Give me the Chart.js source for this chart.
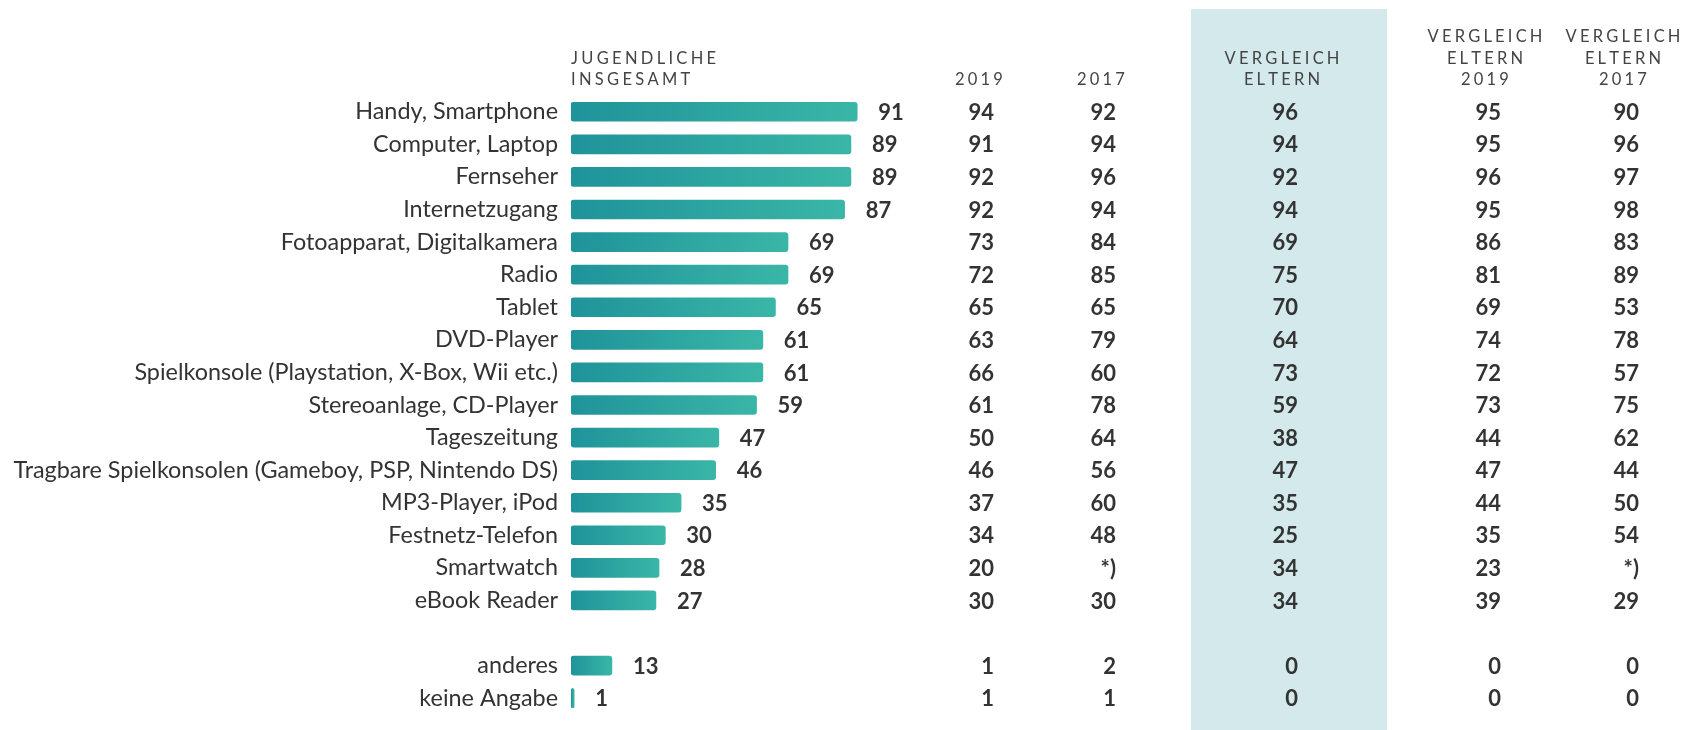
<!DOCTYPE html>
<html>
<head>
<meta charset="utf-8">
<script src="https://cdn.jsdelivr.net/npm/chart.js@4/dist/chart.umd.min.js"></script>
<style>
html,body{margin:0;padding:0;background:#fff;}
#wrap{width:1685px;height:730px;position:relative;}
</style>
</head>
<body>
<div id="wrap"><canvas id="c" width="1685" height="730"></canvas></div>
<script>
const categories = ["Handy, Smartphone","Computer, Laptop","Fernseher","Internetzugang","Fotoapparat, Digitalkamera","Radio","Tablet","DVD-Player","Spielkonsole (Playstation, X-Box, Wii etc.)","Stereoanlage, CD-Player","Tageszeitung","Tragbare Spielkonsolen (Gameboy, PSP, Nintendo DS)","MP3-Player, iPod","Festnetz-Telefon","Smartwatch","eBook Reader","","anderes","keine Angabe"];
const jugendlicheGesamt = [91,89,89,87,69,69,65,61,61,59,47,46,35,30,28,27,null,13,1];
const jugendliche2019 = ["94","91","92","92","73","72","65","63","66","61","50","46","37","34","20","30","","1","1"];
const jugendliche2017 = ["92","94","96","94","84","85","65","79","60","78","64","56","60","48","*)","30","","2","1"];
const elternVergleich = ["96","94","92","94","69","75","70","64","73","59","38","47","35","25","34","34","","0","0"];
const eltern2019 = ["95","95","96","95","86","81","69","74","72","73","44","47","44","35","23","39","","0","0"];
const eltern2017 = ["90","96","97","98","83","89","53","78","57","75","62","44","50","54","*)","29","","0","0"];

const TEXT = '#333333';
const FONT = 'Lato, "Open Sans", sans-serif';

function spaced(ctx, text, x, y, spacing, align) {
  let w = 0;
  for (const ch of text) w += ctx.measureText(ch).width + spacing;
  w -= spacing;
  let sx = align === 'center' ? x - w / 2 : (align === 'right' ? x - w : x);
  ctx.textAlign = 'left';
  for (const ch of text) { ctx.fillText(ch, sx, y); sx += ctx.measureText(ch).width + spacing; }
}

const tableCols = [
  {data: jugendliche2019, right: 994, head: ["2019"], headX: 979},
  {data: jugendliche2017, right: 1116, head: ["2017"], headX: 1101},
  {data: elternVergleich, right: 1298, head: ["VERGLEICH","ELTERN"], headX: 1282},
  {data: eltern2019, right: 1501, head: ["VERGLEICH","ELTERN","2019"], headX: 1485},
  {data: eltern2017, right: 1639, head: ["VERGLEICH","ELTERN","2017"], headX: 1623}
];

const bandPlugin = {
  id: 'band',
  beforeDraw(chart) {
    const ctx = chart.ctx;
    ctx.save();
    ctx.fillStyle = '#d3e9ec';
    ctx.fillRect(1191, 9, 196, 721);
    ctx.restore();
  }
};

const tablePlugin = {
  id: 'table',
  afterDatasetsDraw(chart) {
    const ctx = chart.ctx;
    const xs = chart.scales.x, ys = chart.scales.y;
    ctx.save();
    ctx.fillStyle = TEXT;
    ctx.textBaseline = 'middle';
    ctx.font = 'bold 22px ' + FONT;
    jugendlicheGesamt.forEach((v, i) => {
      if (v === null) return;
      const y = ys.getPixelForValue(i);
      ctx.textAlign = 'left';
      ctx.fillText(String(v), xs.getPixelForValue(v) + 21, y + 1);
    });
    tableCols.forEach(col => {
      col.data.forEach((t, i) => {
        if (!t) return;
        ctx.textAlign = 'right';
        ctx.fillText(t, col.right, ys.getPixelForValue(i) + 1);
      });
    });
    ctx.font = '16.5px ' + FONT;
    ctx.fillStyle = '#444';
    const lineY = [37, 58.5, 80];
    tableCols.forEach(col => {
      const n = col.head.length;
      col.head.forEach((h, k) => {
        spaced(ctx, h, col.headX, lineY[3 - n + k], 3.2, 'center');
      });
    });
    spaced(ctx, "JUGENDLICHE", 571, 58.5, 3.3, 'left');
    spaced(ctx, "INSGESAMT", 571, 79.5, 3.3, 'left');
    ctx.restore();
  }
};

function barGradient(context) {
  const chart = context.chart;
  const xs = chart.scales && chart.scales.x;
  const v = context.raw;
  if (!xs || v == null) return '#2aa5a0';
  const x0 = xs.getPixelForValue(0);
  const x1 = xs.getPixelForValue(v);
  if (!isFinite(x0) || !isFinite(x1)) return '#2aa5a0';
  const g = chart.ctx.createLinearGradient(x0, 0, Math.max(x1, x0 + 1), 0);
  g.addColorStop(0, '#1f939a');
  g.addColorStop(1, '#3ab6a7');
  return g;
}

new Chart(document.getElementById('c'), {
  type: 'bar',
  data: {
    labels: categories,
    datasets: [{
      data: jugendlicheGesamt,
      backgroundColor: barGradient,
      borderRadius: 3,
      borderSkipped: false,
      barThickness: 19
    }]
  },
  options: {
    indexAxis: 'y',
    responsive: false,
    animation: false,
    events: [],
    layout: {padding: {top: 95.5, bottom: 8.5, left: 0, right: 0}},
    plugins: {legend: {display: false}, tooltip: {enabled: false}},
    scales: {
      x: {display: false, min: 0, max: 354.2},
      y: {
        grid: {display: false},
        border: {display: false},
        ticks: {color: TEXT, font: {family: FONT, size: 23.4, lineHeight: 0.9}, padding: 5, autoSkip: false},
        afterFit(scale) { scale.width = 571; }
      }
    }
  },
  plugins: [bandPlugin, tablePlugin]
});
</script>
</body>
</html>
